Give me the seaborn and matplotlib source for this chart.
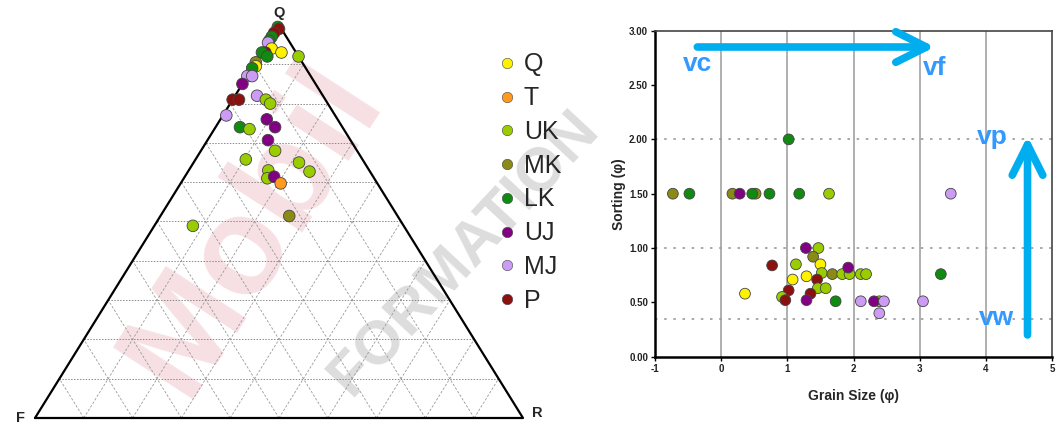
import numpy as np
import pandas as pd
import matplotlib
matplotlib.use("Agg")
import matplotlib.pyplot as plt
import seaborn as sns

# facies groups + colours
groups = ["Q", "T", "UK", "MK", "LK", "UJ", "MJ", "P"]
colors = ["#FFF200", "#FF9A1E", "#9ACD00", "#8A8A14", "#118A11", "#820082", "#CC9CF5", "#8B1010"]

# QFR ternary composition (%)
tern_group = ["LK", "P", "P", "LK", "LK", "MJ", "Q", "P", "LK", "LK", "Q", "UK", "MK", "Q", "LK",
              "MJ", "MJ", "UJ", "P", "P", "MJ", "UK", "UK", "MJ", "LK", "UK", "UJ", "UJ", "UJ",
              "UK", "UK", "UK", "UK", "UK", "UK", "UJ", "T", "MK", "UK"]
tern_q = [99.5, 99, 98, 97, 96, 95.5, 94, 93, 93, 92, 93, 92, 90.5, 89.5, 89,
          87, 87, 85, 81, 81, 82, 81, 80, 77, 74, 73.5, 76, 74, 70.7,
          68, 65.8, 65, 62.7, 63, 61, 61.4, 59.7, 51.4, 48.9]
tern_f = [0.5, 0.5, 2, 3, 4, 4.5, 4.5, 6.3, 7, 6.4, 3, 0, 9.5, 10, 11,
          13, 12, 15, 19, 17.7, 13.5, 12.2, 11.8, 22.3, 21, 19.3, 14.5, 13.8, 16.9,
          16.8, 23.9, 13.4, 12.4, 20.7, 21.9, 20.3, 19.8, 22.2, 43.2]
tern_r = [0, 0.5, 0, 0, 0, 0, 1.5, 0.7, 0, 1.6, 4, 8, 0, 0.5, 0,
          0, 1, 0, 0, 1.3, 4.5, 6.8, 8.2, 0.7, 5, 7.2, 9.5, 12.2, 12.4,
          15.2, 10.3, 21.6, 24.9, 16.3, 17.1, 18.3, 20.5, 26.4, 7.9]

# grain size vs sorting
gs_group = ["MK", "LK", "MK", "UJ", "MK", "LK", "LK", "LK", "UK", "MJ", "LK",
            "UJ", "UK", "MK", "P", "UK", "Q", "UK", "MK", "UK", "UK", "UJ", "UK", "UK",
            "Q", "Q", "P", "UK", "UK", "P", "P", "UK", "P", "UJ", "LK", "Q",
            "MJ", "UK", "UJ", "MJ", "MJ", "LK", "MJ"]
gs_size = [-0.73, -0.48, 0.17, 0.28, 0.52, 0.47, 0.73, 1.18, 1.63, 3.47, 1.02,
           1.28, 1.47, 1.39, 0.77, 1.13, 1.50, 1.52, 1.68, 1.83, 1.94, 1.92, 2.11, 2.19,
           1.08, 1.29, 1.45, 1.46, 1.58, 1.02, 1.35, 0.92, 0.97, 1.29, 1.73, 0.36,
           2.11, 2.39, 2.31, 2.46, 2.39, 3.32, 3.05]
gs_sort = [1.5, 1.5, 1.5, 1.5, 1.5, 1.5, 1.5, 1.5, 1.5, 1.5, 2.0,
           1.0, 1.0, 0.92, 0.84, 0.85, 0.85, 0.77, 0.76, 0.76, 0.76, 0.82, 0.76, 0.76,
           0.71, 0.74, 0.71, 0.63, 0.63, 0.61, 0.58, 0.55, 0.52, 0.52, 0.51, 0.58,
           0.51, 0.51, 0.51, 0.51, 0.40, 0.76, 0.51]

sorting_lines = [0.35, 1.0, 2.0]
size_lines = [0, 1, 2, 3, 4]

sns.set_theme(style="white")
plt.rcParams["font.family"] = ["Liberation Sans", "DejaVu Sans"]
plt.rcParams["axes.unicode_minus"] = False

palette = dict(zip(groups, colors))
H = np.sqrt(3) / 2

fig = plt.figure(figsize=(10.56, 4.29), dpi=100)
fig.patch.set_facecolor("white")

# watermark
fig.text(0.24, 0.47, "Mobil", rotation=57, fontsize=100, fontweight="bold",
         color="#E8A2AA", alpha=0.33, ha="center", va="center", zorder=-1)
fig.text(0.44, 0.41, "FORMATION", rotation=47, fontsize=44, fontweight="bold",
         color="#BBBBBB", alpha=0.5, ha="center", va="center", zorder=-1)

# ---- ternary ----
ax1 = fig.add_axes([35 / 1056, 11 / 429, 488 / 1056, 393 / 429])
ax1.set_facecolor("none")
ax1.set_xlim(0, 1)
ax1.set_ylim(0, H)
ax1.axis("off")

def tern_xy(q, r):
    q = np.asarray(q) / 100.0
    r = np.asarray(r) / 100.0
    return r + q / 2, q * H

for k in range(1, 10):
    t = k * 10
    # const Q
    x, y = tern_xy([t, t], [0, 100 - t])
    ax1.plot(x, y, color="#8a8a8a", lw=0.7, ls=(0, (1.5, 1.5)), zorder=1)
    # const R
    x, y = tern_xy([0, 100 - t], [t, t])
    ax1.plot(x, y, color="#999999", lw=0.6, ls=(0, (3, 2)), zorder=1)
    # const F
    x, y = tern_xy([0, 100 - t], [100 - t, 0])
    ax1.plot(x, y, color="#999999", lw=0.6, ls=(0, (3, 2)), zorder=1)

ax1.plot([0, 1, 0.5, 0], [0, 0, H, 0], color="black", lw=1.6, zorder=2, clip_on=False)

tx, ty = tern_xy(tern_q, tern_r)
tern = pd.DataFrame({"x": tx, "y": ty, "group": tern_group})
sns.scatterplot(data=tern, x="x", y="y", hue="group", hue_order=groups, palette=palette,
                s=70, edgecolor="#444444", linewidth=0.6, ax=ax1, clip_on=False, zorder=3,
                legend=True)

ax1.text(0.5, H + 0.012, "Q", ha="center", va="bottom", fontsize=10.5, fontweight="bold")
ax1.text(-0.03, 0.0, "F", ha="center", va="center", fontsize=10.5, fontweight="bold")
ax1.text(1.03, 0.012, "R", ha="center", va="center", fontsize=10.5, fontweight="bold")

handles, labels = ax1.get_legend_handles_labels()
ax1.get_legend().remove()
for h in handles:
    h.set_markersize(7.5)
    h.set_markeredgewidth(0.4)
fig.legend(handles, labels, loc="upper left", bbox_to_anchor=(479 / 1056, 1 - 40 / 429),
           frameon=False, fontsize=18, handletextpad=0.1, labelspacing=0.39,
           handlelength=1.2, borderpad=0)

# ---- grain size vs sorting ----
ax2 = fig.add_axes([655 / 1056, 1 - 356.7 / 429, 397 / 1056, 326 / 429])
ax2.set_facecolor("none")
for v in size_lines:
    ax2.axvline(v, color="#9a9a9a", lw=1.1, zorder=1)
for h in sorting_lines:
    ax2.axhline(h, color="#9a9a9a", lw=1.2, ls=(0, (1.5, 4)), zorder=1)

gs = pd.DataFrame({"size": gs_size, "sort": gs_sort, "group": gs_group})
sns.scatterplot(data=gs, x="size", y="sort", hue="group", hue_order=groups, palette=palette,
                s=60, edgecolor="#444444", linewidth=0.6, ax=ax2, legend=False, zorder=3)

ax2.set_xlim(-1, 5)
ax2.set_ylim(0, 3)
ax2.set_xticks(range(-1, 6))
ax2.set_yticks(np.arange(0, 3.01, 0.5))
ax2.set_yticklabels([f"{v:.2f}" for v in np.arange(0, 3.01, 0.5)])
ax2.tick_params(axis="both", length=3, width=1, direction="out", labelsize=7, pad=2,
                bottom=True, left=True, colors="black")
for lbl in ax2.get_xticklabels() + ax2.get_yticklabels():
    lbl.set_fontweight("bold")
    lbl.set_color("#222222")
ax2.set_xlabel("Grain Size (φ)", fontsize=10, fontweight="bold", labelpad=11)
ax2.set_ylabel("Sorting (φ)", fontsize=10, fontweight="bold", labelpad=2)
for side in ["left", "bottom"]:
    ax2.spines[side].set_color("black")
    ax2.spines[side].set_linewidth(1.8)
for side in ["top", "right"]:
    ax2.spines[side].set_color("#444444")
    ax2.spines[side].set_linewidth(1.2)

arrow_col = "#00AEEF"
label_col = "#3399FF"
ax2.annotate("", xy=(3.23, 2.85), xytext=(-0.36, 2.85),
             arrowprops=dict(arrowstyle="->,head_length=1.1,head_width=0.55", lw=5.5,
                             color=arrow_col, capstyle="round", joinstyle="round",
                             shrinkA=0, shrinkB=0, mutation_scale=20))
ax2.annotate("", xy=(4.63, 2.03), xytext=(4.63, 0.2),
             arrowprops=dict(arrowstyle="->,head_length=1.1,head_width=0.55", lw=5.5,
                             color=arrow_col, capstyle="round", joinstyle="round",
                             shrinkA=0, shrinkB=0, mutation_scale=20))
for txt, x, y in [("vc", -0.35, 2.69), ("vf", 3.23, 2.66), ("vp", 4.10, 2.02), ("vw", 4.16, 0.36)]:
    ax2.text(x, y, txt, color=label_col, fontsize=19, fontweight="bold", ha="center", va="center")

plt.savefig("out.png", dpi=100)
